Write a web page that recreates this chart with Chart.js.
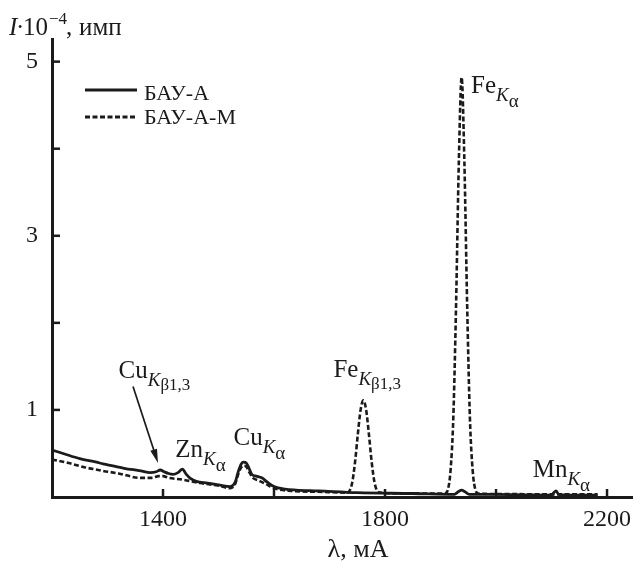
<!DOCTYPE html>
<html>
<head>
<meta charset="utf-8">
<script src="https://cdn.jsdelivr.net/npm/chart.js@4/dist/chart.umd.min.js"></script>
<style>
  html,body{margin:0;padding:0;background:#fff;}
  #wrap{width:633px;height:563px;}
</style>
</head>
<body>
<div id="wrap"><canvas id="c" width="633" height="563"></canvas></div>
<script>
// ---- data (λ in mÅ, I in 10^4 counts) ----
const waveA = [1200,1220,1250,1280,1292,1300,1330,1360,1377,1388,1395,1402,1410,1418,1427,1435,1442,1450,1460,1480,1500,1521,1530,1536,1541,1545,1550,1555,1560,1568,1578,1588,1600,1620,1640,1680,1750,1850,1925,1932,1938,1944,1952,2000,2050,2100,2104,2108,2113,2150,2183];
const intA  = [0.54,0.50,0.44,0.40,0.38,0.37,0.33,0.30,0.28,0.29,0.31,0.29,0.27,0.26,0.28,0.32,0.26,0.21,0.18,0.16,0.14,0.12,0.17,0.30,0.38,0.40,0.39,0.33,0.26,0.24,0.22,0.17,0.12,0.09,0.08,0.07,0.05,0.04,0.03,0.06,0.08,0.06,0.03,0.03,0.025,0.02,0.05,0.07,0.03,0.02,0.02];

const waveM = [1200,1230,1260,1292,1320,1359,1380,1392,1400,1410,1435,1467,1500,1521,1530,1536,1541,1545,1550,1555,1562,1572,1585,1600,1630,1680,1731,1736,1741,1746,1751,1756,1761,1766,1771,1776,1781,1786,1791,1850,1908,1913,1918,1923,1928,1933,1938,1943,1948,1953,1958,1963,1968,2000,2100,2183];
const intM  = [0.43,0.39,0.34,0.30,0.27,0.22,0.22,0.24,0.24,0.22,0.20,0.16,0.13,0.10,0.15,0.27,0.34,0.36,0.35,0.29,0.22,0.19,0.15,0.10,0.07,0.06,0.05,0.07,0.17,0.40,0.72,1.00,1.11,1.00,0.72,0.40,0.17,0.07,0.05,0.04,0.04,0.08,0.30,0.90,2.20,3.85,4.82,3.85,2.20,0.90,0.30,0.08,0.04,0.035,0.03,0.03];

const seriesNames = ['БАУ-А','БАУ-А-М'];
const xLabelled = [1400,1800,2200];
const yLabelled = [1,3,5];

// peak labels: element, subscript, sub-subscript, anchor (λ, I)
const peakLabels = [
  {el:'Cu', k:'K', s:'β1,3', x:1320, y:1.37},
  {el:'Zn', k:'K', s:'α',    x:1422, y:0.46},
  {el:'Cu', k:'K', s:'α',    x:1527, y:0.60},
  {el:'Fe', k:'K', s:'β1,3', x:1707, y:1.38},
  {el:'Fe', k:'K', s:'α',    x:1955, y:4.64},
  {el:'Mn', k:'K', s:'α',    x:2066, y:0.23},
];
const arrowFrom = [1346,1.27], arrowTo = [1391,0.39];

const INK = '#1b1b1b';
const SERIF = '"Liberation Serif","DejaVu Serif",serif';
const zip = (xs,ys)=>xs.map((x,i)=>({x, y:ys[i]}));

const decor = {
  id:'decor',
  afterDraw(chart){
    const ctx=chart.ctx, xs=chart.scales.x, ys=chart.scales.y, a=chart.chartArea;
    ctx.save();
    ctx.strokeStyle=INK; ctx.fillStyle=INK; ctx.lineWidth=2.5;
    // inward ticks
    xs.ticks.forEach(t=>{
      if(t.value<=xs.min) return;
      const px=xs.getPixelForValue(t.value);
      ctx.beginPath(); ctx.moveTo(px,a.bottom); ctx.lineTo(px,a.bottom-8); ctx.stroke();
    });
    ys.ticks.forEach(t=>{
      if(t.value<=ys.min) return;
      const py=ys.getPixelForValue(t.value);
      ctx.beginPath(); ctx.moveTo(a.left,py); ctx.lineTo(a.left+8,py); ctx.stroke();
    });

    // legend
    ctx.lineWidth=2.8;
    ctx.beginPath(); ctx.moveTo(85,90); ctx.lineTo(137,90); ctx.stroke();
    ctx.setLineDash([5,2.5]);
    ctx.beginPath(); ctx.moveTo(85,117); ctx.lineTo(137,117); ctx.stroke();
    ctx.setLineDash([]);
    ctx.font='22px '+SERIF; ctx.textBaseline='alphabetic'; ctx.textAlign='left';
    ctx.fillText(seriesNames[0],144,100);
    ctx.fillText(seriesNames[1],144,124);

    // peak labels
    peakLabels.forEach(l=>{
      let px=xs.getPixelForValue(l.x); const py=ys.getPixelForValue(l.y);
      ctx.font='25px '+SERIF; ctx.fillText(l.el,px,py); px+=ctx.measureText(l.el).width;
      ctx.font='italic 19px '+SERIF; ctx.fillText(l.k,px,py+8); px+=ctx.measureText(l.k).width;
      ctx.font=(l.s==='α'?'19px ':'17px ')+SERIF; ctx.fillText(l.s,px,py+(l.s==='α'?14:12));
    });

    // arrow to Cu Kβ
    const x1=xs.getPixelForValue(arrowFrom[0]), y1=ys.getPixelForValue(arrowFrom[1]);
    const x2=xs.getPixelForValue(arrowTo[0]),   y2=ys.getPixelForValue(arrowTo[1]);
    const ang=Math.atan2(y2-y1,x2-x1);
    ctx.lineWidth=1.7;
    ctx.beginPath(); ctx.moveTo(x1,y1); ctx.lineTo(x2-Math.cos(ang)*10,y2-Math.sin(ang)*10); ctx.stroke();
    ctx.beginPath();
    ctx.moveTo(x2,y2);
    ctx.lineTo(x2-Math.cos(ang)*14+Math.sin(ang)*3.5, y2-Math.sin(ang)*14-Math.cos(ang)*3.5);
    ctx.lineTo(x2-Math.cos(ang)*14-Math.sin(ang)*3.5, y2-Math.sin(ang)*14+Math.cos(ang)*3.5);
    ctx.closePath(); ctx.fill();

    // axis titles
    const ty=35;
    ctx.font='italic 25px '+SERIF; ctx.fillText('I',9,ty);
    ctx.font='25px '+SERIF; ctx.fillText('·',16,ty); ctx.fillText('10',23,ty);
    ctx.font='17px '+SERIF; ctx.fillText('−4',49,ty-11);
    ctx.font='25px '+SERIF; ctx.fillText(',',66,ty); ctx.fillText('имп',79,ty);
    ctx.font='26px '+SERIF; ctx.textAlign='center';
    ctx.fillText('λ, мА',358,557);
    ctx.restore();
  }
};

new Chart(document.getElementById('c'),{
  type:'line',
  data:{datasets:[
    {label:seriesNames[0],data:zip(waveA,intA),borderColor:INK,borderWidth:2.8,pointRadius:0,cubicInterpolationMode:'monotone',fill:false},
    {label:seriesNames[1],data:zip(waveM,intM),borderColor:INK,borderWidth:2.6,borderDash:[5,2.5],pointRadius:0,cubicInterpolationMode:'monotone',fill:false},
  ]},
  plugins:[decor],
  options:{
    responsive:false,animation:false,
    layout:{padding:{top:39,right:1,left:0,bottom:0}},
    plugins:{legend:{display:false},tooltip:{enabled:false}},
    scales:{
      x:{type:'linear',min:1200,max:2245,
        afterFit:s=>{s.height=66; s.paddingLeft=0; s.paddingRight=0;},
        grid:{display:false,drawTicks:false},
        border:{display:true,color:INK,width:3},
        ticks:{stepSize:200,includeBounds:false,autoSkip:false,maxRotation:0,padding:8,color:INK,
          font:{family:SERIF,size:24},
          callback:v=>xLabelled.includes(v)?String(v):''}},
      y:{type:'linear',min:0,max:5.26,
        afterFit:s=>{s.width=52; s.paddingTop=0; s.paddingBottom=0;},
        grid:{display:false,drawTicks:false},
        border:{display:true,color:INK,width:3},
        ticks:{stepSize:1,includeBounds:false,padding:14,color:INK,
          font:{family:SERIF,size:24},
          callback:v=>yLabelled.includes(v)?String(v):''}}
    }
  }
});
</script>
</body>
</html>
